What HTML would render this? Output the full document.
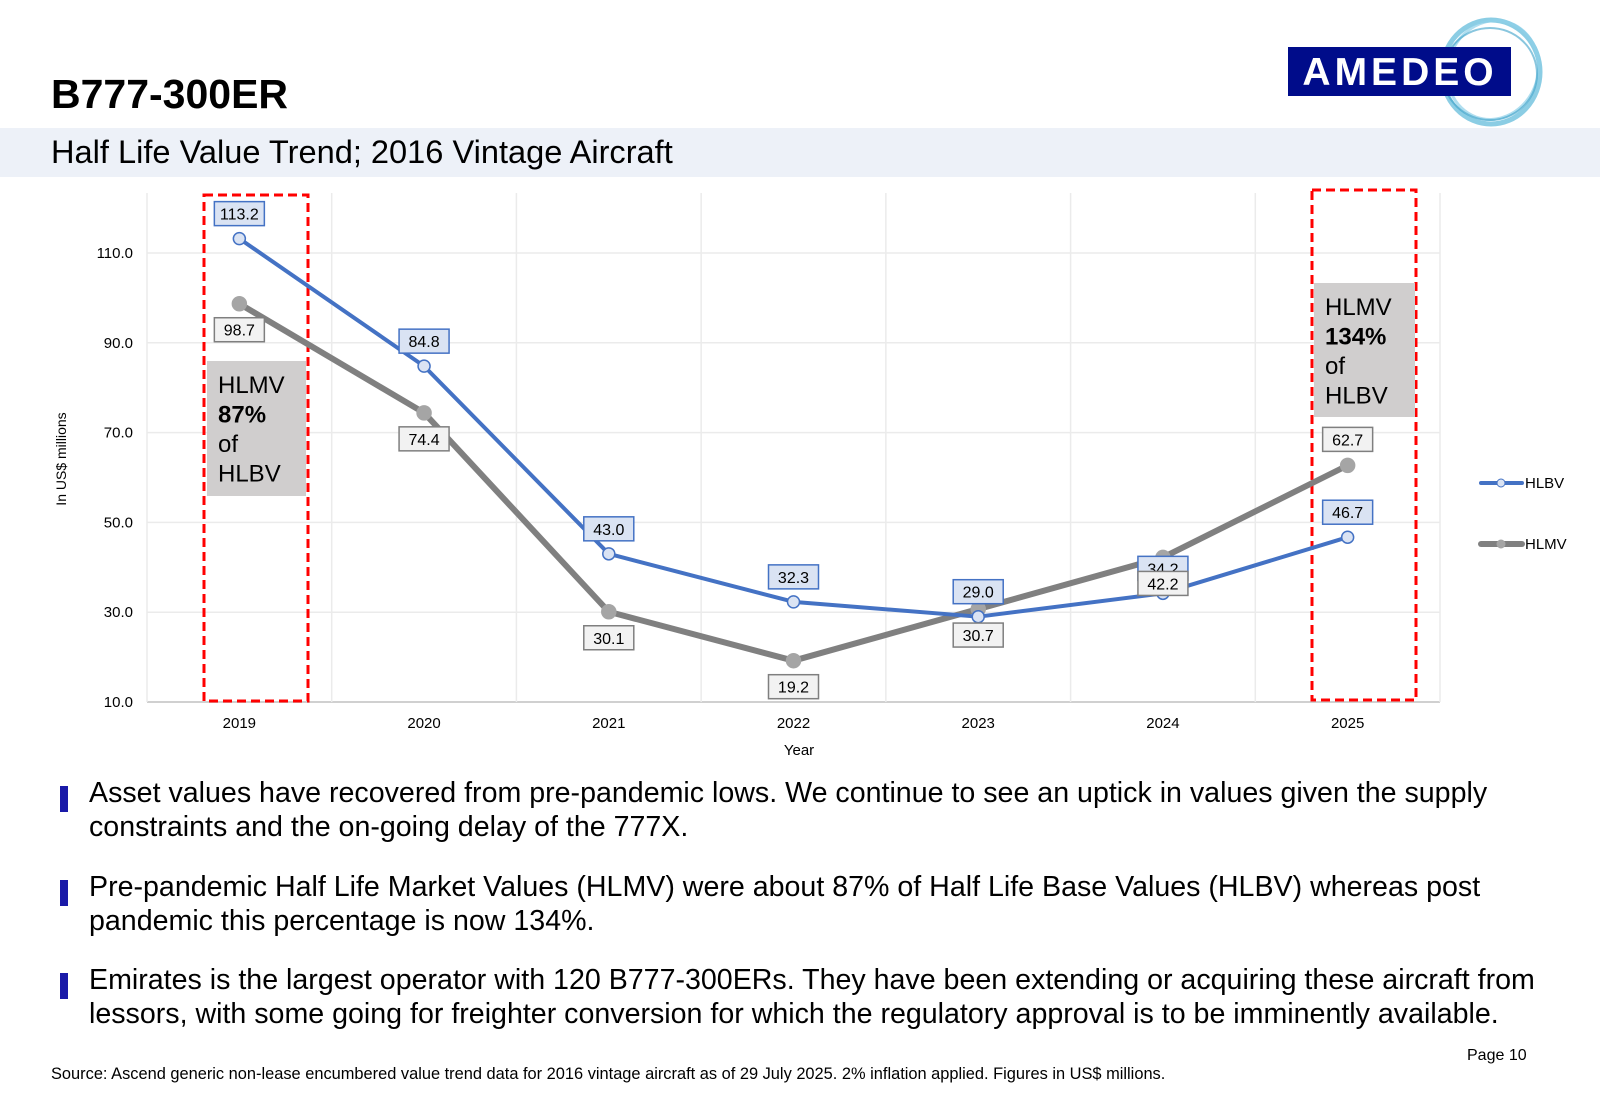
<!DOCTYPE html>
<html><head><meta charset="utf-8">
<style>
body{margin:0;width:1600px;height:1108px;background:#fff;font-family:"Liberation Sans",Arial,sans-serif;position:relative;overflow:hidden}
.abs{position:absolute}
.bul{position:absolute;left:60px;width:8px;height:26px;background:#1a1aa8}
.btxt{position:absolute;left:89px;font-size:28.6px;line-height:34px;color:#000;width:1480px}
</style></head><body>
<div class="abs" style="left:51px;top:71px;font-size:41px;font-weight:bold">B777-300ER</div>
<div class="abs" style="left:0;top:128px;width:1600px;height:49px;background:#edf1f8"></div>
<div class="abs" style="left:51px;top:133px;font-size:32.6px">Half Life Value Trend; 2016 Vintage Aircraft</div>
<svg class="abs" style="left:1280px;top:10px" width="300" height="120">
<ellipse cx="211" cy="62" rx="49" ry="52" fill="none" stroke="#5ab8d8" stroke-width="5" opacity="0.7"/>
<ellipse cx="213" cy="60" rx="45" ry="50" fill="none" stroke="#8fd0e8" stroke-width="3" opacity="0.7" transform="rotate(20 213 60)"/>
<ellipse cx="210" cy="64" rx="47" ry="46" fill="none" stroke="#3aa0c8" stroke-width="2" opacity="0.6"/>
<rect x="8" y="37" width="223" height="49" fill="#000c8a"/>
<text x="120" y="75" text-anchor="middle" fill="#fff" font-size="39" font-weight="bold" letter-spacing="4" font-family="Liberation Sans">AMEDEO</text>
</svg>
<svg class="abs" id="chart" style="left:0;top:180px" width="1600" height="580"></svg>
<div class="bul" style="top:786px"></div>
<div class="btxt" style="top:776px">Asset values have recovered from pre-pandemic lows. We continue to see an uptick in values given the supply constraints and the on-going delay of the 777X.</div>
<div class="bul" style="top:880px"></div>
<div class="btxt" style="top:870px">Pre-pandemic Half Life Market Values (HLMV) were about 87% of Half Life Base Values (HLBV) whereas post pandemic this percentage is now 134%.</div>
<div class="bul" style="top:973px"></div>
<div class="btxt" style="top:963px">Emirates is the largest operator with 120 B777-300ERs. They have been extending or acquiring these aircraft from lessors, with some going for freighter conversion for which the regulatory approval is to be imminently available.</div>
<div class="abs" style="left:1467px;top:1047px;font-size:16px">Page 10</div>
<div class="abs" style="left:51px;top:1065px;font-size:16.4px">Source: Ascend generic non-lease encumbered value trend data for 2016 vintage aircraft as of 29 July 2025. 2% inflation applied. Figures in US$ millions.</div>
<script>
const years=["2019","2020","2021","2022","2023","2024","2025"];
const hlbv=[113.2,84.8,43.0,32.3,29.0,34.2,46.7];
const hlmv=[98.7,74.4,30.1,19.2,30.7,42.2,62.7];
const yTicks=[10,30,50,70,90,110];
const hlmvLabelSide=[1,1,1,1,1,1,-1];
const svg=document.getElementById('chart');
const NS='http://www.w3.org/2000/svg';
const OY=180;
const x0=147,x1=1440,yBase=702-OY,yMin=10,yMax=110,yTop=253-OY;
const step=(x1-x0)/years.length;
function X(i){return x0+step*(i+0.5);}
function Y(v){return yBase-(v-yMin)/(yMax-yMin)*(yBase-yTop);}
function el(t,a,p){const e=document.createElementNS(NS,t);for(const k in a)e.setAttribute(k,a[k]);(p||svg).appendChild(e);return e;}
yTicks.forEach(v=>{
 const g=el('line',{x1:x0,x2:x1,y1:Y(v),y2:Y(v),stroke:v===10?'#d0d0d0':'#ebebeb','stroke-width':v===10?2:1.5});
 
 
 const t=el('text',{x:133,y:Y(v)+5,'text-anchor':'end','font-size':15,fill:'#000'});
 t.textContent=v.toFixed(1);
 
 
});
for(let i=0;i<=years.length;i++){
 const g=el('line',{x1:x0+step*i,x2:x0+step*i,y1:yTop-60,y2:yBase,stroke:'#ebebeb','stroke-width':1.5});
 
 
}
years.forEach((y,i)=>{
 const t=el('text',{x:X(i),y:yBase+26,'text-anchor':'middle','font-size':15});
 t.textContent=y;
 
 
});
let t=el('text',{x:799,y:yBase+53,'text-anchor':'middle','font-size':15});t.textContent='Year';


t=el('text',{x:0,y:0,'text-anchor':'middle','font-size':14,transform:`translate(66,${459-OY}) rotate(-90)`});t.textContent='In US$ millions';


[[204,195,104,506],[1312,190,104,510]].forEach(b=>{
 const r=el('rect',{x:b[0],y:b[1]-OY,width:b[2],height:b[3],fill:'none',stroke:'#f00','stroke-width':3,'stroke-dasharray':'9 5'});
 
 
});
function annot(x,y,w,h,lines,name){
 const g=el('g',{});
 
 
 el('rect',{x:x,y:y-OY,width:w,height:h,fill:'#d0cece'},g);
 lines.forEach((l,k)=>{const tt=el('text',{x:x+11,y:y-OY+32+k*29.5,'font-size':24,'font-weight':l[1]?'bold':'normal'},g);tt.textContent=l[0];});
}
annot(207,361,99,135,[['HLMV'],['87%',1],['of'],['HLBV']],'annotation-2019');
annot(1314,283,101,134,[['HLMV'],['134%',1],['of'],['HLBV']],'annotation-2025');
function series(data,color,w,mfill,mstroke,r,name){
 const p=el('polyline',{points:data.map((v,i)=>X(i)+','+Y(v)).join(' '),fill:'none',stroke:color,'stroke-width':w,'stroke-linejoin':'round'});
 
 
 data.forEach((v,i)=>{
  const c=el('circle',{cx:X(i),cy:Y(v),r:r,fill:mfill,stroke:mstroke,'stroke-width':1.5});
  
  
 });
}
series(hlmv,'#808080',6,'#a5a5a5','#a5a5a5',7,'hlmv');
series(hlbv,'#4472c4',4,'#dae3f3','#4472c4',6,'hlbv');
function label(v,i,dy,bg,bd,name){
 const g=el('g',{});
 
 
 const cx=X(i),cy=Y(v)+dy;
 el('rect',{x:cx-25,y:cy-12,width:50,height:24,fill:bg,stroke:bd,'stroke-width':1.5},g);
 const tt=el('text',{x:cx,y:cy+6,'text-anchor':'middle','font-size':16},g);tt.textContent=v.toFixed(1);
}
hlbv.forEach((v,i)=>label(v,i,-25,'#dae3f3','#4472c4','hlbv'));
hlmv.forEach((v,i)=>label(v,i,26*hlmvLabelSide[i],'#f2f2f2','#7f7f7f','hlmv'));
function leg(y,color,w,mfill,mstroke,r,txt){
 const g=el('g',{});
 
 
 el('line',{x1:1481,x2:1522,y1:y-OY,y2:y-OY,stroke:color,'stroke-width':w,'stroke-linecap':'round'},g);
 el('circle',{cx:1501,cy:y-OY,r:r,fill:mfill,stroke:mstroke,'stroke-width':1},g);
 const tt=el('text',{x:1525,y:y-OY+5,'font-size':15},g);tt.textContent=txt;
}
leg(483,'#4472c4',4,'#dae3f3','#4472c4',4,'HLBV');
leg(544,'#808080',6,'#a5a5a5','#a5a5a5',4,'HLMV');
</script>
</body></html>
